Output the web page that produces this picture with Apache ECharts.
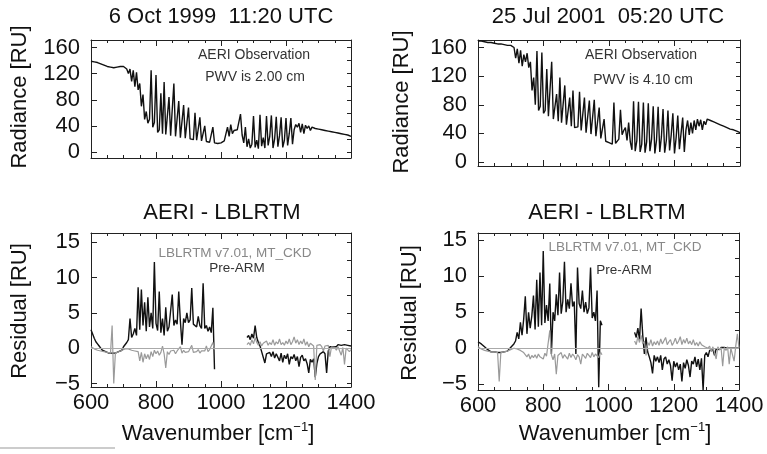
<!DOCTYPE html>
<html><head><meta charset="utf-8">
<script src="https://cdn.jsdelivr.net/npm/echarts@6.0.0/dist/echarts.min.js"></script>
<style>html,body{margin:0;padding:0;background:#fff}#c{width:767px;height:454px}</style>
</head><body><div id="c"></div><script>
// Wavenumber grid [cm-1]
const wavenumber = [
600,605,610,615,620,625,630,635,640,645,
650,655,660,665,670,675,680,685,690,695,
700,705,710,715,720,725,730,735,740,745,
750,755,760,765,770,775,780,785,790,795,
800,805,810,815,820,825,830,835,840,845,
850,855,860,865,870,875,880,885,890,895,
900,905,910,915,920,925,930,935,940,945,
950,955,960,965,970,975,980,985,990,995,
1000,1005,1010,1015,1020,1025,1030,1035,1040,1045,
1050,1055,1060,1065,1070,1075,1080,1085,1090,1095,
1100,1105,1110,1115,1120,1125,1130,1135,1140,1145,
1150,1155,1160,1165,1170,1175,1180,1185,1190,1195,
1200,1205,1210,1215,1220,1225,1230,1235,1240,1245,
1250,1255,1260,1265,1270,1275,1280,1285,1290,1295,
1300,1305,1310,1315,1320,1325,1330,1335,1340,1345,
1350,1355,1360,1365,1370,1375,1380,1385,1390,1395,
1400];

// AERI observed radiance, 6 Oct 1999 [RU]
const radiance1999 = [
139,139,138,138,137,136,135,134,133,132,
131,130,130,129,129,130,130,130,131,131,
131,129,127,120,127,108,125,100,122,95,
105,70,88,50,62,44,50,125,38,45,
118,30,34,90,28,107,27,30,84,25,
28,105,24,26,78,22,24,72,21,23,
68,20,22,19,60,18,20,53,17,18,
40,16,17,15,16,38,14,13,13,14,
14,15,17,19,38,24,42,28,33,30,
34,31,58,26,14,38,8,20,6,12,
55,7,18,5,57,9,22,6,55,10,
24,56,6,20,54,8,25,53,7,18,
52,10,28,52,12,34,42,38,44,30,
43,28,41,36,40,33,38,37,36,36,
35,35,34,34,33,33,32,32,31,31,
30,30,29,29,28,28,27,26,26,25,
24];

// AERI observed radiance, 25 Jul 2001 [RU]
const radiance2001 = [
169,169,169,168,168,168,167,167,167,166,
166,166,165,165,165,164,164,164,163,163,
163,162,160,145,158,138,156,134,150,140,
152,132,140,100,118,80,155,72,78,153,
68,72,130,64,66,140,60,62,95,57,
118,55,56,107,52,54,90,50,100,48,
47,49,98,44,46,90,41,43,86,39,
40,87,36,38,76,33,32,60,29,28,
27,26,25,83,26,28,32,73,38,44,
48,30,55,28,17,85,15,30,84,14,
25,83,13,28,82,15,32,78,12,30,
77,14,35,74,13,30,72,16,38,68,
12,34,65,18,40,62,14,45,58,38,
55,40,58,45,60,50,59,45,57,52,
60,59,58,57,56,55,54,53,52,51,
50,49,48,47,46,46,45,44,43,42,
41];

// Residual AERI - LBLRTM (Pre-ARM), 1999
const preArm1999 = [
2.6,2.0,1.4,0.9,0.6,0.3,0.0,-0.3,-0.5,-0.5,
-0.6,-0.7,-0.7,-0.7,-0.7,-0.7,-0.6,-0.5,-0.4,-0.3,
0.2,0.4,0.8,1.2,4.2,1.5,2.0,2.8,1.8,8.6,
2.6,8.3,3.2,6.5,2.4,7.2,3.0,5.0,2.8,12.2,
3.5,2.5,8.0,2.2,4.2,1.8,5.8,2.4,3.0,2.8,
7.6,3.2,4.0,3.4,8.0,3.8,0.5,4.2,3.6,5.0,
3.6,4.0,8.5,3.4,3.6,3.0,4.5,3.2,2.8,9.2,
2.8,3.2,2.4,3.0,2.2,5.7,-3.0,null,null,null,
null,null,null,null,null,null,null,null,null,null,
null,null,null,null,null,null,1.5,1.8,1.2,2.0,
1.4,3.2,1.5,0.8,0.3,-0.5,-0.3,-2.1,-0.8,-1.0,
-0.6,-1.2,-0.5,-1.4,-0.8,-1.0,-1.8,-0.7,-2.0,-1.0,
-1.5,-0.8,-2.3,-1.2,-1.5,-0.9,-1.8,-1.2,-2.6,-1.3,
-1.0,-1.8,-1.5,-2.2,-3.5,-1.6,-2.0,-1.5,-4.1,-2.2,
-1.2,-0.8,-1.0,-0.5,-0.8,-3.5,-0.4,0.2,0.3,0.2,
0.4,0.2,0.5,0.3,0.4,0.2,0.5,0.3,0.4,0.2,
0.3];

// Residual AERI - LBLRTM v7.01 MT_CKD, 1999
const v701_1999 = [
0.2,0.0,-0.1,-0.2,-0.3,-0.3,-0.4,-0.4,-0.5,-0.5,
-0.6,-0.7,-0.7,3.2,-5.0,-0.7,-0.6,-0.5,-0.4,-0.3,
-0.2,-0.1,0.0,-0.1,-0.2,-0.3,-0.5,-0.4,-0.6,-0.5,
-1.8,-0.6,-2.0,-0.8,-1.5,-0.9,-1.6,-0.5,-1.2,-0.3,
-0.8,-0.4,-1.0,-0.6,0.3,-0.8,-2.8,-0.5,-0.9,-0.4,
-0.6,-0.3,-0.8,-0.4,-0.5,0.2,-0.7,-0.3,-0.6,-0.4,
-0.5,-0.3,0.4,-0.6,-0.4,-0.5,-0.2,-0.7,-0.4,-0.3,
-0.4,0.3,-0.5,-0.2,-0.3,0.8,-0.2,null,null,null,
null,null,null,null,null,null,null,null,null,null,
null,null,null,null,null,null,0.5,0.8,0.4,1.2,
0.6,1.5,0.8,0.4,0.9,0.3,0.7,0.5,1.0,0.4,
0.8,0.5,1.2,0.4,0.9,0.6,1.3,0.5,0.8,0.4,
1.0,0.6,1.3,0.5,0.9,1.6,0.7,1.2,0.5,1.0,
0.6,1.3,0.4,0.9,0.2,0.7,0.5,0.3,-4.5,0.4,
0.3,0.5,0.2,-0.4,0.3,0.1,0.4,-1.2,0.2,0.0,
0.1,-0.3,0.2,0.0,-1.0,0.1,-2.3,0.0,0.2,-0.5,
-0.2];

// Residual AERI - LBLRTM (Pre-ARM), 2001
const preArm2001 = [
0.9,0.8,0.6,0.4,0.2,0.0,-0.2,-0.4,-0.5,-0.5,
-0.5,-0.6,-0.6,-0.6,-0.6,-0.6,-0.5,-0.5,-0.4,-0.3,
0.1,0.3,0.6,1.0,2.2,1.3,3.6,1.8,4.0,7.2,
2.0,5.0,2.8,4.5,7.3,2.6,9.5,3.0,10.5,3.2,
13.5,3.5,6.0,3.8,9.0,-0.8,5.0,3.8,7.5,4.6,
10.5,4.8,6.5,12.0,5.0,6.8,5.5,9.0,5.8,6.5,
-0.8,11.2,6.2,5.5,8.0,5.0,6.4,4.8,5.6,11.2,
4.2,5.0,3.8,8.0,-5.4,3.8,3.2,null,null,null,
null,null,null,null,null,null,null,null,null,null,
null,null,null,null,null,null,2.2,1.5,2.8,1.2,
5.5,1.8,-0.8,1.5,-0.5,-1.2,-2.0,-3.5,-1.0,-1.8,
-1.2,-2.0,-1.0,-3.0,-1.5,-1.2,-2.2,-1.6,-2.4,-4.5,
-1.8,-2.6,-2.0,-3.0,-2.2,-4.6,-2.0,-2.8,-1.6,-2.4,
-4.0,-1.8,-2.2,-1.2,-2.6,-1.5,-3.0,-1.4,-5.8,-1.0,
-0.6,-1.2,-0.3,-0.5,-0.2,-1.0,-0.1,0.0,-0.2,0.1,
0.0,0.1,-0.1,0.0,0.1,0.0,-0.1,0.0,0.1,0.0,
0.0];

// Residual AERI - LBLRTM v7.01 MT_CKD, 2001
const v701_2001 = [
0.2,0.0,-0.1,-0.2,-0.3,-0.3,-0.4,-0.4,-0.5,-0.5,
-0.5,-0.6,-0.6,-4.6,-0.6,-0.6,-0.5,-0.5,-0.4,-0.3,
-0.2,-0.1,0.0,0.0,-0.1,-0.2,-0.3,-0.4,-0.6,-0.8,
-1.2,-0.8,-1.5,-1.0,-1.3,-0.9,-1.4,-0.8,-1.2,-1.0,
-1.5,-0.7,-1.1,-1.3,2.5,-0.9,-1.6,-0.8,-3.6,-1.0,
-1.2,-0.6,-1.4,-0.9,-1.0,-1.5,-0.7,-1.3,-0.8,-1.1,
-1.6,-0.9,-1.2,-2.2,-0.8,-1.1,-1.4,-0.7,-1.0,-1.3,
-0.6,-1.2,-0.8,-1.0,-1.3,-0.5,-0.9,null,null,null,
null,null,null,null,null,null,null,null,null,null,
null,null,null,null,null,null,1.0,0.5,1.6,0.8,
1.8,0.6,1.0,-1.0,0.8,0.4,1.2,0.3,0.9,0.5,
1.0,0.4,1.3,0.6,0.8,1.5,0.5,0.9,1.2,0.4,
0.8,1.4,0.6,1.0,1.6,0.5,1.2,0.7,1.4,0.6,
1.0,0.5,1.2,0.4,0.8,0.3,0.9,0.5,0.6,0.2,
0.4,0.0,0.3,-0.5,0.2,0.0,-1.5,0.2,-0.2,0.1,
-2.5,0.1,-0.3,0.2,-2.2,0.0,0.1,-1.8,0.3,2.0,
0.0];

// Tick labels
const radianceTicks = [0, 40, 80, 120, 160];
const radianceMinorTicks = [0, 20, 40, 60, 80, 100, 120, 140, 160];
const residualTicks = [-5, 0, 5, 10, 15];
const residualMinorTicks = [-5, -2.5, 0, 2.5, 5, 7.5, 10, 12.5, 15];

const FONT = '"Liberation Sans", Arial, Helvetica, sans-serif';
const AX = '#222';

const grids = [
  {left: 91, top: 40, width: 260, height: 118},
  {left: 478, top: 40, width: 262, height: 126},
  {left: 91, top: 233, width: 260, height: 154},
  {left: 478, top: 233, width: 261, height: 157}
].map(g => Object.assign({containLabel: false, outerBoundsMode: 'none', show: false}, g));

const yRanges = [[-9.2, 171.5], [-5.6, 170.5], [-5.5, 16.3], [-5.8, 16.0]];

const xAxis = [], yAxis = [];
for (let g = 0; g < 4; g++) {
  const baseX = {type: 'value', gridIndex: g, min: 600, max: 1400, interval: 200,
    splitLine: {show: false}, minorSplitLine: {show: false},
    axisLine: {show: true, onZero: false, lineStyle: {color: AX, width: 1}},
    axisTick: {show: true, inside: true, length: 6, lineStyle: {color: AX}},
    minorTick: {show: true, splitNumber: 4, length: 3, lineStyle: {color: AX}}};
  xAxis.push(Object.assign({}, baseX, {position: 'bottom',
    axisLabel: {show: g >= 2, fontSize: 22, fontFamily: FONT, color: '#111', margin: 5,
      formatter: v => String(v)}}));
  xAxis.push(Object.assign({}, baseX, {position: 'top', axisLabel: {show: false}}));
  const major = g < 2 ? radianceTicks : residualTicks;
  const minor = g < 2 ? radianceMinorTicks : residualMinorTicks;
  const baseY = {type: 'value', gridIndex: g, min: yRanges[g][0], max: yRanges[g][1],
    splitLine: {show: false},
    axisLine: {show: true, onZero: false, lineStyle: {color: AX, width: 1}}};
  yAxis.push(Object.assign({}, baseY, {position: 'left',
    axisTick: {show: true, inside: true, length: 6, customValues: major, lineStyle: {color: AX}},
    axisLabel: {show: true, customValues: major, fontSize: 22, fontFamily: FONT, color: '#111', margin: 11,
      formatter: v => String(v).replace('-', '\u2212')}}));
  yAxis.push(Object.assign({}, baseY, {position: 'right',
    axisTick: {show: true, inside: true, length: 4, customValues: minor, lineStyle: {color: AX}},
    axisLabel: {show: false}}));
}

function lineSeries(g, values, color, width, z, extra) {
  return Object.assign({type: 'line', xAxisIndex: 2 * g, yAxisIndex: 2 * g,
    data: wavenumber.map((w, i) => [w, values[i] == null ? '-' : values[i]]),
    showSymbol: false, symbol: 'none', connectNulls: false, silent: true, animation: false, z: z,
    lineStyle: {color: color, width: width}, itemStyle: {color: color}}, extra || {});
}
const zeroLine = {markLine: {silent: true, symbol: ['none', 'none'], label: {show: false},
  lineStyle: {color: '#aaa', type: 'solid', width: 1}, data: [{yAxis: 0}], animation: false}};

const series = [
  lineSeries(0, radiance1999, '#111', 1.4, 2),
  lineSeries(1, radiance2001, '#111', 1.4, 2),
  lineSeries(2, preArm1999, '#111', 1.4, 2, zeroLine),
  lineSeries(2, v701_1999, '#9a9a9a', 1.2, 3),
  lineSeries(3, preArm2001, '#111', 1.4, 2, zeroLine),
  lineSeries(3, v701_2001, '#9a9a9a', 1.2, 3)
];

function txt(text, x, y, size, color, rot, rich) {
  const st = {text: text, x: 0, y: 0, align: 'center', verticalAlign: 'middle',
    fontSize: size, fontFamily: FONT, fill: color};
  if (rich) st.rich = rich;
  return {type: 'text', x: x, y: y, rotation: rot || 0, z: 100, style: st};
}
const supRich = {sup: {fontSize: 13, fontFamily: FONT, fill: '#111', padding: [0, 0, 14, 0]}};

const graphic = [
  txt('6 Oct 1999  11:20 UTC', 221, 17, 22, '#111'),
  txt('25 Jul 2001  05:20 UTC', 608, 17, 22, '#111'),
  txt('AERI - LBLRTM', 222, 213, 22, '#111'),
  txt('AERI - LBLRTM', 607, 213, 22, '#111'),
  txt('Radiance [RU]', 20, 97, 22, '#111', Math.PI / 2),
  txt('Radiance [RU]', 402, 102, 22, '#111', Math.PI / 2),
  txt('Residual [RU]', 20, 311, 22, '#111', Math.PI / 2),
  txt('Residual [RU]', 410, 313, 22, '#111', Math.PI / 2),
  txt('Wavenumber [cm{sup|\u22121}]', 218, 434, 22, '#111', 0, supRich),
  txt('Wavenumber [cm{sup|\u22121}]', 615, 434, 22, '#111', 0, supRich),
  txt('AERI Observation', 254, 55, 14, '#333'),
  txt('PWV is 2.00 cm', 255, 77, 14, '#333'),
  txt('AERI Observation', 641, 55, 14, '#333'),
  txt('PWV is 4.10 cm', 643, 80, 14, '#333'),
  txt('LBLRTM v7.01, MT_CKD', 235, 253, 13.5, '#888'),
  txt('Pre-ARM', 237, 268, 13.5, '#333'),
  txt('LBLRTM v7.01, MT_CKD', 625, 247, 13.5, '#888'),
  txt('Pre-ARM', 624, 270, 13.5, '#333'),
  {type: 'line', shape: {x1: 0, y1: 448, x2: 115, y2: 448}, style: {stroke: '#bbb', lineWidth: 1.5}}
];

const chart = echarts.init(document.getElementById('c'), null, {renderer: 'canvas'});
chart.setOption({animation: false, backgroundColor: '#fff', grid: grids, xAxis: xAxis, yAxis: yAxis,
  series: series, graphic: graphic});
</script></body></html>
